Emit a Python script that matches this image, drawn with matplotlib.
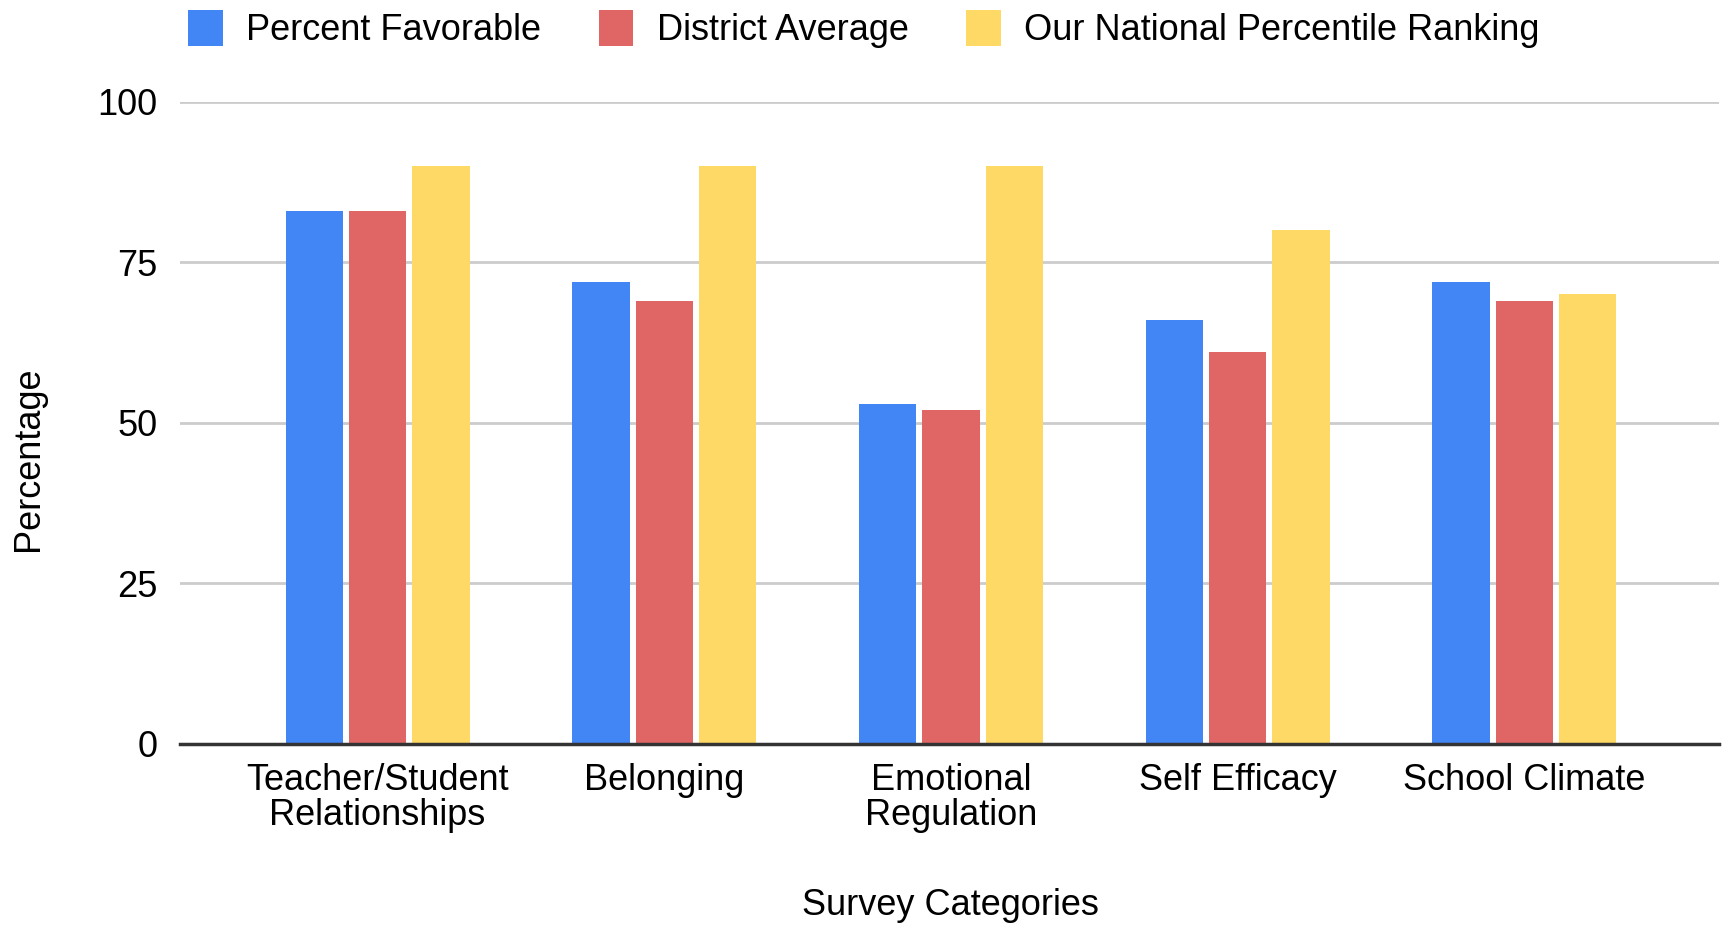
import numpy as np
import matplotlib
matplotlib.use("Agg")
import matplotlib.pyplot as plt
from matplotlib.patches import Patch

plt.rcParams['font.family'] = ['Liberation Sans', 'DejaVu Sans']

categories = ["Teacher/Student\nRelationships", "Belonging", "Emotional\nRegulation",
              "Self Efficacy", "School Climate"]
percent_favorable = [83, 72, 53, 66, 72]
district_average = [83, 69, 52, 61, 69]
national_percentile = [90, 90, 90, 80, 70]

series = ["Percent Favorable", "District Average", "Our National Percentile Ranking"]
colors = ["#4285F4", "#E06666", "#FFD966"]

fig = plt.figure(figsize=(17.28, 9.32), dpi=100)
ax = fig.add_axes([0.104, 0.2018, 0.891, 0.689])

x = np.arange(len(categories))
width = 0.2
step = 0.221
for i, (vals, col) in enumerate(zip([percent_favorable, district_average, national_percentile], colors)):
    ax.bar(x + (i - 1) * step, vals, width, color=col, zorder=3)

ax.set_ylim(0, 100)
ax.set_xlim(-0.69, 4.68)
ax.set_yticks([0, 25, 50, 75, 100])
ax.set_xticks(x)
ax.set_xticklabels(categories, fontsize=26, linespacing=1.0)
ax.tick_params(axis='y', labelsize=26, length=0, pad=16)
ax.tick_params(axis='x', length=0, pad=14)
ax.yaxis.grid(True, color="#cccccc", linewidth=2, zorder=0)

for s in ["top", "right", "left"]:
    ax.spines[s].set_visible(False)
ax.spines["bottom"].set_color("#333333")
ax.spines["bottom"].set_linewidth(2.5)
ax.spines["bottom"].set_zorder(4)

ax.set_ylabel("Percentage", fontsize=26)
ax.yaxis.set_label_coords(-0.0866, 0.444)
fig.text(0.55, 0.028, "Survey Categories", fontsize=26, ha="center", va="center")

handles = [Patch(facecolor=c, edgecolor="none") for c in colors]
fig.legend(handles, series, loc="upper center", bbox_to_anchor=(0.5, 1.024), ncol=3,
           frameon=False, fontsize=26, handlelength=0.95, handleheight=1.15,
           handletextpad=0.65, columnspacing=1.6)

fig.savefig("out.png", dpi=100, facecolor="white")
